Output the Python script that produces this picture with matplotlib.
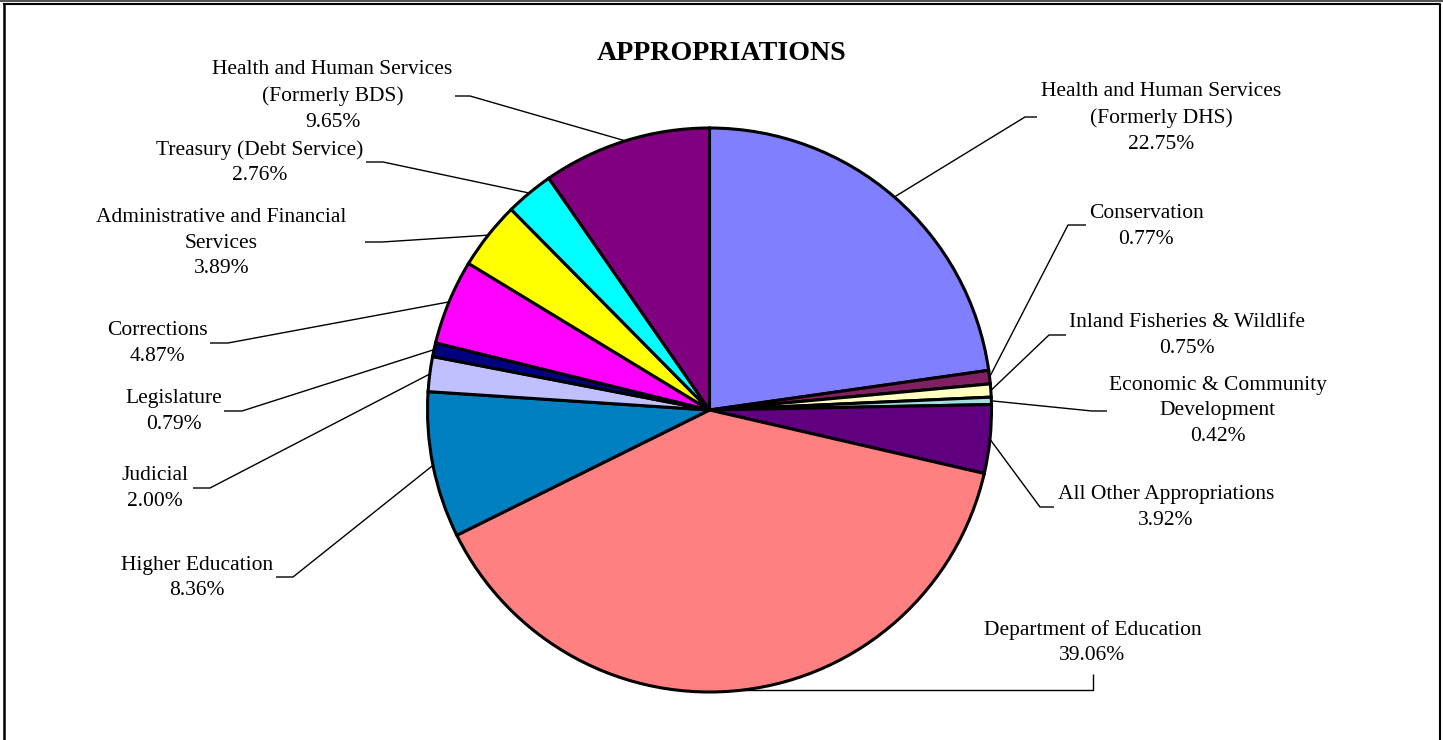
import matplotlib
matplotlib.use("Agg")
import matplotlib.pyplot as plt
import numpy as np

plt.rcParams['font.family'] = ['Liberation Serif', 'DejaVu Serif']

# ---- data ----
categories = [
    "Health and Human Services\n(Formerly DHS)",
    "Conservation",
    "Inland Fisheries & Wildlife",
    "Economic & Community\nDevelopment",
    "All Other Appropriations",
    "Department of Education",
    "Higher Education",
    "Judicial",
    "Legislature",
    "Corrections",
    "Administrative and Financial\nServices",
    "Treasury (Debt Service)",
    "Health and Human Services\n(Formerly BDS)",
]
values = [22.75, 0.77, 0.75, 0.42, 3.92, 39.06, 8.36, 2.00, 0.79, 4.87, 3.89, 2.76, 9.65]
colors = ["#8080FF", "#802060", "#FFFFC0", "#A0E0E0", "#600080", "#FF8080",
          "#0080C0", "#C0C0FF", "#000080", "#FF00FF", "#FFFF00", "#00FFFF", "#800080"]

# label block centres (pixel coords, y from top)
label_pos = [(1161, 118), (1146, 226.5), (1187, 335.5), (1218, 411), (1166, 507.5),
             (1092.5, 642.5), (197, 578), (155, 488.5), (174, 411.5), (157.5, 343.5),
             (221.5, 243), (259.5, 162.5), (332.5, 96)]
# leader elbow and end points (pixel coords, y from top)
leader_elbow = [(1025, 117), (1068, 225), (1049, 335), (1092, 411), (1040, 507),
                None, (293, 577), (210, 488), (242, 411), (228, 343),
                (382, 242), (383, 162), (470, 96)]
leader_end = [(1037, 117), (1086, 225), (1066, 335), (1107, 411), (1054, 507),
              (1093, 674), (276, 577), (193, 488), (224, 411), (210, 343),
              (365, 242), (366, 162), (455, 96)]

W, H = 1443, 740
fig = plt.figure(figsize=(W / 100, H / 100), dpi=100)
ax = fig.add_axes([0, 0, 1, 1])

def Y(y):
    return H - y

cx, cy, R = 709.5, Y(410), 282
wedges, _ = ax.pie(values, colors=colors, startangle=90, counterclock=False,
                   center=(cx, cy), radius=R,
                   wedgeprops=dict(edgecolor="black", linewidth=2.2))
ax.set_xlim(0, W)
ax.set_ylim(0, H)
ax.set_aspect("equal")
ax.axis("off")

for i, w in enumerate(wedges):
    mid = np.deg2rad((w.theta1 + w.theta2) / 2)
    ax_x = cx + R * np.cos(mid)
    ax_y = cy + R * np.sin(mid)
    ex, ey = leader_end[i]
    if leader_elbow[i] is None:
        xs = [ax_x, ex, ex]
        ys = [ax_y, ax_y, Y(ey)]
    else:
        bx, by = leader_elbow[i]
        xs = [ax_x, bx, ex]
        ys = [ax_y, Y(by), Y(ey)]
    ax.plot(xs, ys, color="black", lw=1.0, solid_capstyle="butt", zorder=0)
    lx, ly = label_pos[i]
    ax.text(lx, Y(ly), f"{categories[i]}\n{values[i]:.2f}%", ha="center", va="center",
            multialignment="center", fontsize=15.5, linespacing=1.47, color="black")

ax.text(722, Y(53), "APPROPRIATIONS", ha="center", va="center", fontsize=20.2,
        fontweight="bold")

# frame
ax.plot([0, W], [Y(1), Y(1)], color="#555555", lw=1.5, clip_on=False)
ax.plot([3.5, 1439.5, 1439.5], [Y(3.5), Y(3.5), 0], color="black", lw=1.5, clip_on=False)
ax.plot([3.5, 3.5], [Y(3.5), 0], color="black", lw=1.8, clip_on=False)

fig.savefig("out.png", dpi=100)
